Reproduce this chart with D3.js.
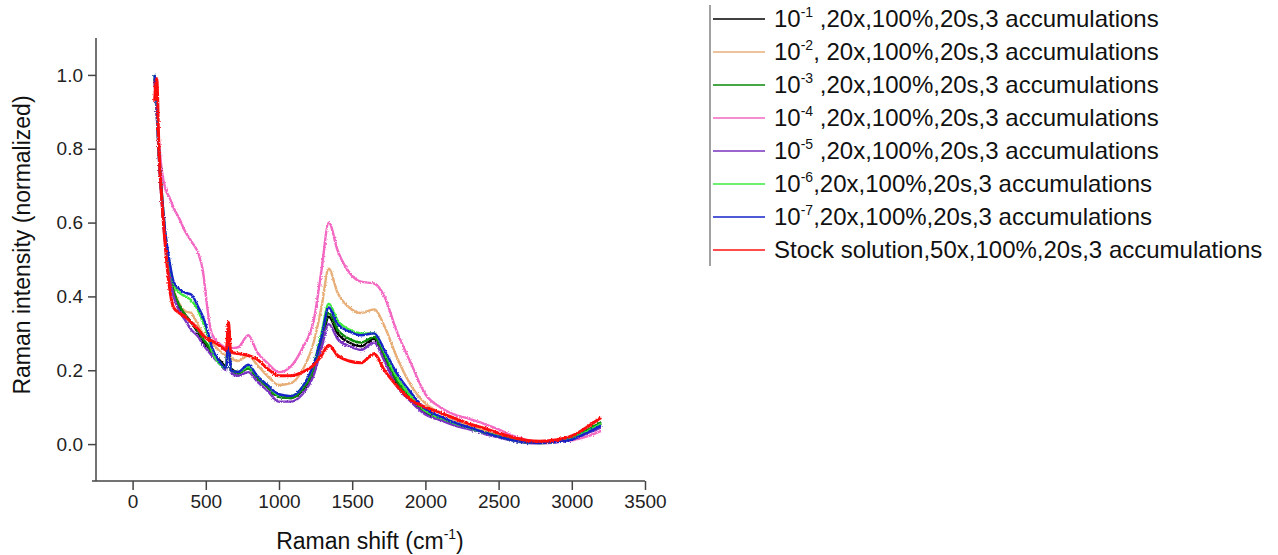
<!DOCTYPE html>
<html>
<head>
<meta charset="utf-8">
<script src="https://cdn.jsdelivr.net/npm/d3@7"></script>
<style>
  body { margin: 0; background: #fff; }
  text { font-family: "Liberation Sans", Arial, sans-serif; }
</style>
</head>
<body>
<script>
// raman shift positions (cm-1) shared by all spectra
var shift = [150, 165, 180, 200, 225, 250, 280, 320, 360, 400, 450, 480, 510, 540, 600, 640, 655, 670, 720, 790, 850, 920, 1000, 1080, 1160, 1240, 1290, 1340, 1400, 1480, 1560, 1650, 1720, 1800, 1900, 2000, 2100, 2200, 2300, 2400, 2500, 2600, 2700, 2780, 2900, 3000, 3100, 3200];

var conc1 = [0.99, 0.90, 0.78, 0.66, 0.54, 0.47, 0.41, 0.37, 0.35, 0.33, 0.30, 0.28, 0.265, 0.25, 0.225, 0.21, 0.32, 0.205, 0.195, 0.205, 0.18, 0.155, 0.128, 0.125, 0.145, 0.20, 0.27, 0.345, 0.30, 0.275, 0.265, 0.285, 0.23, 0.165, 0.12, 0.085, 0.07, 0.055, 0.045, 0.033, 0.022, 0.012, 0.006, 0.005, 0.008, 0.015, 0.035, 0.055];
var conc2 = [0.98, 0.90, 0.79, 0.66, 0.55, 0.48, 0.42, 0.38, 0.36, 0.355, 0.32, 0.30, 0.285, 0.275, 0.25, 0.24, 0.32, 0.235, 0.225, 0.24, 0.215, 0.185, 0.16, 0.165, 0.20, 0.28, 0.37, 0.475, 0.41, 0.37, 0.355, 0.365, 0.32, 0.24, 0.16, 0.11, 0.085, 0.065, 0.05, 0.035, 0.022, 0.012, 0.006, 0.005, 0.008, 0.015, 0.03, 0.045];
var conc3 = [0.99, 0.90, 0.78, 0.66, 0.545, 0.475, 0.415, 0.375, 0.35, 0.33, 0.305, 0.285, 0.27, 0.25, 0.22, 0.205, 0.32, 0.20, 0.19, 0.205, 0.18, 0.155, 0.128, 0.125, 0.148, 0.205, 0.28, 0.355, 0.31, 0.285, 0.275, 0.29, 0.24, 0.175, 0.125, 0.088, 0.07, 0.055, 0.044, 0.032, 0.021, 0.011, 0.005, 0.004, 0.008, 0.016, 0.037, 0.06];
var conc4 = [0.98, 0.90, 0.82, 0.74, 0.69, 0.67, 0.64, 0.61, 0.575, 0.55, 0.515, 0.47, 0.37, 0.30, 0.27, 0.262, 0.268, 0.26, 0.262, 0.295, 0.25, 0.22, 0.195, 0.21, 0.26, 0.34, 0.47, 0.60, 0.525, 0.465, 0.44, 0.435, 0.40, 0.31, 0.22, 0.135, 0.10, 0.08, 0.068, 0.055, 0.04, 0.022, 0.01, 0.006, 0.007, 0.01, 0.02, 0.036];
var conc5 = [0.99, 0.89, 0.77, 0.65, 0.53, 0.46, 0.40, 0.36, 0.335, 0.31, 0.29, 0.27, 0.255, 0.24, 0.215, 0.20, 0.31, 0.195, 0.185, 0.195, 0.17, 0.145, 0.115, 0.115, 0.135, 0.19, 0.26, 0.325, 0.285, 0.265, 0.255, 0.275, 0.225, 0.16, 0.115, 0.08, 0.065, 0.05, 0.04, 0.028, 0.018, 0.009, 0.003, 0.002, 0.005, 0.012, 0.028, 0.045];
var conc6 = [1.0, 0.92, 0.80, 0.68, 0.565, 0.495, 0.435, 0.41, 0.40, 0.39, 0.36, 0.33, 0.30, 0.255, 0.215, 0.205, 0.32, 0.20, 0.195, 0.21, 0.185, 0.16, 0.132, 0.13, 0.155, 0.22, 0.30, 0.38, 0.335, 0.31, 0.30, 0.30, 0.25, 0.185, 0.13, 0.09, 0.072, 0.056, 0.044, 0.031, 0.02, 0.01, 0.004, 0.003, 0.007, 0.014, 0.033, 0.055];
var conc7 = [1.0, 0.92, 0.80, 0.68, 0.57, 0.50, 0.44, 0.42, 0.41, 0.405, 0.37, 0.345, 0.31, 0.265, 0.22, 0.205, 0.32, 0.20, 0.195, 0.215, 0.185, 0.16, 0.135, 0.13, 0.155, 0.22, 0.29, 0.37, 0.325, 0.305, 0.295, 0.30, 0.255, 0.195, 0.14, 0.095, 0.075, 0.058, 0.045, 0.032, 0.02, 0.01, 0.004, 0.003, 0.006, 0.013, 0.03, 0.05];
var stock = [0.93, 0.99, 0.80, 0.66, 0.53, 0.43, 0.37, 0.355, 0.345, 0.33, 0.31, 0.295, 0.285, 0.28, 0.265, 0.255, 0.33, 0.25, 0.245, 0.24, 0.23, 0.205, 0.185, 0.185, 0.195, 0.215, 0.24, 0.268, 0.24, 0.225, 0.22, 0.245, 0.20, 0.16, 0.12, 0.10, 0.085, 0.07, 0.055, 0.043, 0.03, 0.018, 0.01, 0.008, 0.012, 0.022, 0.045, 0.072];

var series = [conc1, conc2, conc3, conc4, conc5, conc6, conc7, stock];
var colors = ["#000000", "#E8AE78", "#0A8A0A", "#F267C2", "#7A32C0", "#3DEB3D", "#1424C8", "#FF1010"];
// legend: base, exponent, rest of label
var legendBase = ["10", "10", "10", "10", "10", "10", "10", "Stock solution,50x,100%,20s,3 accumulations"];
var legendExp = ["-1", "-2", "-3", "-4", "-5", "-6", "-7", ""];
var legendRest = [" ,20x,100%,20s,3 accumulations", ", 20x,100%,20s,3 accumulations", " ,20x,100%,20s,3 accumulations", " ,20x,100%,20s,3 accumulations", " ,20x,100%,20s,3 accumulations", ",20x,100%,20s,3 accumulations", ",20x,100%,20s,3 accumulations", ""];

var xTicks = [0, 500, 1000, 1500, 2000, 2500, 3000, 3500];
var xMinor = [-250, 250, 750, 1250, 1750, 2250, 2750, 3250];
var yTicks = [0, 0.2, 0.4, 0.6, 0.8, 1.0];
var yMinor = [-0.1, 0.1, 0.3, 0.5, 0.7, 0.9, 1.1];

var svgWidth = 1278, svgHeight = 555;

var svg = d3.select("body").append("svg")
    .attr("width", svgWidth)
    .attr("height", svgHeight);

// slight jitter so the lines look like noisy spectra
var defs = svg.append("defs");
var filt = defs.append("filter").attr("id", "noisy")
    .attr("x", "-5%").attr("y", "-5%").attr("width", "110%").attr("height", "110%");
filt.append("feTurbulence").attr("type", "fractalNoise")
    .attr("baseFrequency", "0.8").attr("numOctaves", 1).attr("seed", 3).attr("result", "n");
filt.append("feDisplacementMap").attr("in", "SourceGraphic").attr("in2", "n")
    .attr("scale", 3).attr("xChannelSelector", "R").attr("yChannelSelector", "G");

var x = d3.scaleLinear().domain([-250, 3500]).range([96, 645]);
var y = d3.scaleLinear().domain([-0.1, 1.1]).range([481, 38]);

var axisColor = "#444";

// x axis
var gx = svg.append("g").attr("transform", "translate(0,481)");
gx.call(d3.axisBottom(x).tickValues(xMinor).tickSize(5).tickFormat(""));
gx.call(d3.axisBottom(x).tickValues(xTicks).tickSize(9).tickPadding(5).tickFormat(d3.format("d")));
gx.selectAll("path").remove();
gx.append("line").attr("x1", 92).attr("x2", 645).attr("stroke", axisColor).attr("stroke-width", 1.5);
gx.selectAll("line").attr("stroke", axisColor).attr("stroke-width", 1.5);
gx.selectAll("text").attr("font-size", 19).attr("fill", "#222");

// y axis
var gy = svg.append("g").attr("transform", "translate(96,0)");
gy.call(d3.axisLeft(y).tickValues(yMinor).tickSize(4).tickFormat(""));
gy.call(d3.axisLeft(y).tickValues(yTicks).tickSize(8).tickPadding(5).tickFormat(d3.format(".1f")));
gy.selectAll("path").remove();
gy.append("line").attr("y1", y(1.1)).attr("y2", y(-0.1)).attr("stroke", axisColor).attr("stroke-width", 1.5);
gy.selectAll("line").attr("stroke", axisColor).attr("stroke-width", 1.5);
gy.selectAll("text").attr("font-size", 19).attr("fill", "#222");

// axis titles
svg.append("text")
    .attr("transform", "translate(30,245) rotate(-90)")
    .attr("text-anchor", "middle")
    .attr("font-size", 23)
    .attr("fill", "#111")
    .text("Raman intensity (normalized)");

var xt = svg.append("text")
    .attr("x", 370).attr("y", 549)
    .attr("text-anchor", "middle")
    .attr("font-size", 23)
    .attr("fill", "#111");
xt.append("tspan").text("Raman shift (cm");
xt.append("tspan").attr("font-size", 14).attr("dy", -10).text("-1");
xt.append("tspan").attr("dy", 10).text(")");

// spectra
var line = d3.line()
    .x(function(d, i) { return x(shift[i]); })
    .y(function(d) { return y(d); })
    .curve(d3.curveMonotoneX);

svg.append("g").attr("filter", "url(#noisy)")
  .selectAll("path.spec")
  .data(series)
  .enter()
  .append("path")
    .attr("class", "spec")
    .attr("d", line)
    .attr("fill", "none")
    .attr("stroke", function(d, i) { return colors[i]; })
    .attr("stroke-width", function(d, i) { return i == 7 ? 3 : 2.4; })
    .attr("stroke-linejoin", "round");

// legend
var lg = svg.append("g");
lg.append("line").attr("x1", 710).attr("x2", 710).attr("y1", 5).attr("y2", 266)
    .attr("stroke", "#444").attr("stroke-width", 1);

var rows = lg.selectAll("g.row")
  .data(colors)
  .enter()
  .append("g")
    .attr("class", "row")
    .attr("transform", function(d, i) { return "translate(0," + (19 + i * 33) + ")"; });

rows.append("line")
    .attr("x1", 713).attr("x2", 765)
    .attr("stroke", function(d) { return d; })
    .attr("stroke-width", 1.5);

var lt = rows.append("text")
    .attr("x", 774).attr("y", 8)
    .attr("font-size", 24)
    .attr("fill", "#111");
lt.append("tspan").text(function(d, i) { return legendBase[i]; });
lt.append("tspan").attr("font-size", 14).attr("dy", -10).text(function(d, i) { return legendExp[i]; });
lt.append("tspan").attr("dy", 10).text(function(d, i) { return legendRest[i]; });
</script>
</body>
</html>
